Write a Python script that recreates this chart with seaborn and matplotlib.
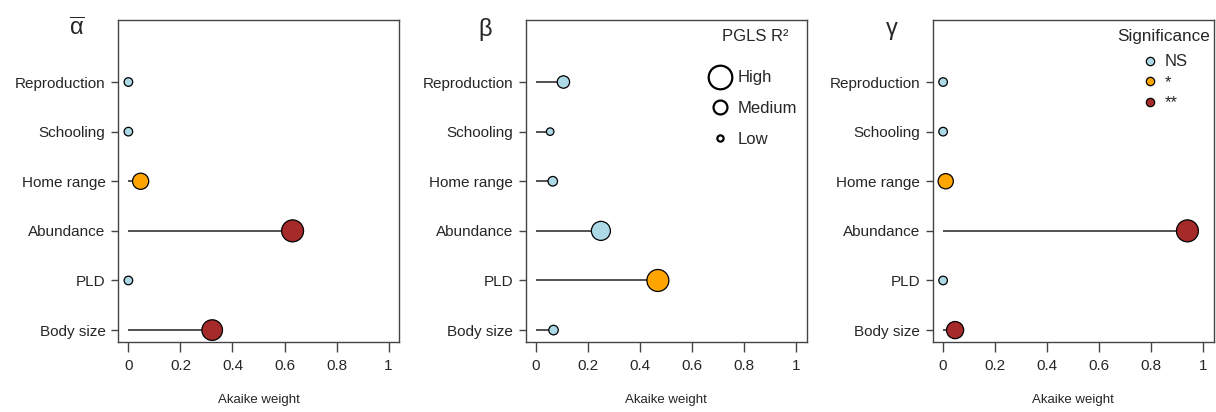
import matplotlib
matplotlib.use("Agg")
import matplotlib.pyplot as plt
from matplotlib.lines import Line2D
import seaborn as sns
import pandas as pd

# ---------------- data ----------------
categories = ["Body size", "PLD", "Abundance", "Home range", "Schooling", "Reproduction"]

alpha_weight = [0.322, 0.0, 0.631, 0.047, 0.0, 0.0]
alpha_sig = ["**", "NS", "**", "*", "NS", "NS"]
alpha_r2 = [0.75, 0.13, 0.85, 0.46, 0.13, 0.13]

beta_weight = [0.067, 0.468, 0.249, 0.064, 0.054, 0.105]
beta_sig = ["NS", "*", "NS", "NS", "NS", "NS"]
beta_r2 = [0.16, 0.85, 0.64, 0.16, 0.10, 0.27]

gamma_weight = [0.046, 0.0, 0.939, 0.010, 0.0, 0.0]
gamma_sig = ["**", "NS", "**", "*", "NS", "NS"]
gamma_r2 = [0.52, 0.13, 0.85, 0.41, 0.13, 0.13]

sig_levels = ["NS", "*", "**"]
r2_levels = ["High", "Medium", "Low"]
x_ticks = [0, 0.2, 0.4, 0.6, 0.8, 1]
x_ticklabels = ["0", "0.2", "0.4", "0.6", "0.8", "1"]
panel_titles = [r"$\overline{\mathrm{\alpha}}$", "β", "γ"]

# ---------------- style ----------------
sns.set_style("white")
plt.rcParams["font.family"] = ["Liberation Sans", "DejaVu Sans"]
plt.rcParams["mathtext.fontset"] = "custom"
plt.rcParams["mathtext.rm"] = "Liberation Sans"
plt.rcParams["mathtext.it"] = "Liberation Sans"

palette = {"NS": "#ADD8E6", "*": "#FFA500", "**": "#A52A2A"}
frame_col = "#444444"

fig = plt.figure(figsize=(12.16, 4.12), dpi=100)
lefts = [118 / 1216, 525.7 / 1216, 932.7 / 1216]
width = 281 / 1216
bottom = 70 / 412
height = 322 / 412

panels = [
    (alpha_weight, alpha_sig, alpha_r2),
    (beta_weight, beta_sig, beta_r2),
    (gamma_weight, gamma_sig, gamma_r2),
]

axes = []
for i, (w, s, r2) in enumerate(panels):
    ax = fig.add_axes([lefts[i], bottom, width, height])
    df = pd.DataFrame({"trait": categories, "weight": w, "sig": s, "r2": r2})
    ax.hlines(y=df["trait"], xmin=0, xmax=df["weight"], color="#333333", lw=1.2, zorder=2)
    sns.scatterplot(data=df, x="weight", y="trait", hue="sig", palette=palette,
                    hue_order=sig_levels, size="r2", sizes=(0, 294), size_norm=(0, 1),
                    edgecolor="black", linewidth=0.9, legend=False, zorder=3, ax=ax)
    ax.set_xlim(-0.04, 1.04)
    ax.set_ylim(-0.24, 6.25)
    ax.set_xticks(x_ticks)
    ax.set_xticklabels(x_ticklabels)
    ax.set_xlabel("Akaike weight", fontsize=9.5, labelpad=15)
    ax.set_ylabel("")
    ax.tick_params(axis="x", labelsize=11, length=7, width=1, color=frame_col, pad=5, bottom=True)
    ax.tick_params(axis="y", labelsize=11, length=5, width=1, color=frame_col, pad=4, left=True)
    for sp in ax.spines.values():
        sp.set_color(frame_col)
        sp.set_linewidth(1)
    ax.text(-0.145, 0.972, panel_titles[i], transform=ax.transAxes, fontsize=17,
            ha="center", va="center")
    axes.append(ax)

# R2 size legend on beta panel
r2_handles = [
    Line2D([], [], marker="o", linestyle="none", markersize=ms, markerfacecolor="white",
           markeredgecolor="black", markeredgewidth=1.6)
    for ms in [17, 10, 4.5]
]
axes[1].text(0.818, 0.950, "PGLS R²", transform=axes[1].transAxes, fontsize=12,
             ha="center", va="center")
axes[1].legend(r2_handles, r2_levels, loc="center", bbox_to_anchor=(0.805, 0.725),
               frameon=False, fontsize=12, labelspacing=0.94, handletextpad=0.3,
               handlelength=1.5, borderpad=0)

# Significance legend on gamma panel
sig_handles = [
    Line2D([], [], marker="o", linestyle="none", markersize=6,
           markerfacecolor=palette[k], markeredgecolor="black", markeredgewidth=0.9)
    for k in sig_levels
]
axes[2].text(0.823, 0.950, "Significance", transform=axes[2].transAxes, fontsize=12.3,
             ha="center", va="center")
axes[2].legend(sig_handles, sig_levels, loc="center", bbox_to_anchor=(0.822, 0.806),
               frameon=False, fontsize=12, labelspacing=0.33, handletextpad=0.3,
               handlelength=1.2, borderpad=0)

fig.savefig("out.png", dpi=100)
